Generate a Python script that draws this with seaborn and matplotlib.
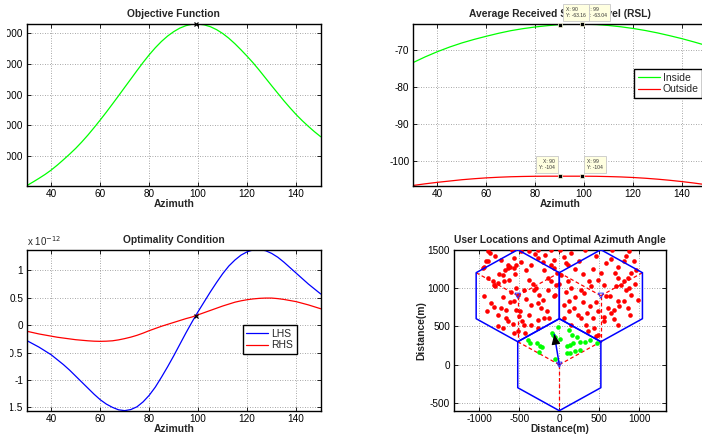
import numpy as np
import pandas as pd
import matplotlib
matplotlib.use("Agg")
import matplotlib.pyplot as plt
from matplotlib.patches import Rectangle
from matplotlib.ticker import FuncFormatter
import seaborn as sns

# ---------------- data ----------------
# Objective function vs azimuth
obj_az = [30, 32.5, 35, 37.5, 40, 42.5, 45, 47.5, 50, 52.5, 55, 57.5, 60, 62.5,
          65, 67.5, 70, 72.5, 75, 77.5, 80, 82.5, 85, 87.5, 90, 92.5, 95, 97.5,
          99, 100, 102.5, 105, 107.5, 110, 112.5, 115, 117.5, 120, 122.5, 125,
          127.5, 130, 132.5, 135, 137.5, 140, 142.5, 145, 147.5, 150]
obj_val = [4033, 4150, 4272, 4400, 4543, 4705, 4880, 5060, 5250, 5460, 5685,
           5925, 6174, 6430, 6696, 6965, 7239, 7510, 7783, 8050, 8300, 8530,
           8735, 8910, 9055, 9170, 9250, 9295, 9304, 9302, 9275, 9215, 9120,
           8995, 8840, 8660, 8460, 8250, 8030, 7790, 7540, 7290, 7045, 6800,
           6570, 6350, 6150, 5965, 5790, 5630]
obj_opt_az = 99
obj_yticks = [5000, 6000, 7000, 8000, 9000]

# Average RSL vs azimuth
rsl_az = [30, 35, 40, 45, 50, 55, 60, 65, 70, 75, 80, 85, 90, 95, 99, 105,
          110, 115, 120, 125, 130, 135, 140, 145, 150]
rsl_inside = [-73.4, -71.85, -70.45, -69.2, -68.1, -67.15, -66.3, -65.5, -64.8,
              -64.25, -63.8, -63.45, -63.16, -63.06, -63.04, -63.15, -63.4,
              -63.75, -64.2, -64.75, -65.4, -66.15, -66.95, -67.85, -68.8]
rsl_outside = [-106.5, -106.05, -105.65, -105.3, -104.95, -104.68, -104.45,
               -104.28, -104.15, -104.07, -104.02, -104.0, -104.0, -104.0, -104.0,
               -104.03, -104.1, -104.2, -104.35, -104.55, -104.8, -105.1, -105.45,
               -105.85, -106.3]
tip_az = [90, 99]
tip_inside = [-63.16, -63.04]
tip_outside = [-104, -104]

# Optimality condition (units of 1e-12)
opt_az = [30, 32.5, 35, 37.5, 40, 42.5, 45, 47.5, 50, 52.5, 55, 57.5, 60, 62.5,
          65, 67.5, 70, 72.5, 75, 77.5, 80, 82.5, 85, 87.5, 90, 92.5, 95, 97.5,
          99, 100, 102.5, 105, 107.5, 110, 112.5, 115, 117.5, 120, 122.5, 125,
          127.5, 130, 132.5, 135, 137.5, 140, 142.5, 145, 147.5, 150]
lhs = [-0.28, -0.34, -0.40, -0.47, -0.54, -0.63, -0.72, -0.82, -0.93, -1.04,
       -1.15, -1.26, -1.36, -1.44, -1.50, -1.545, -1.56, -1.54, -1.49, -1.40,
       -1.28, -1.13, -0.95, -0.76, -0.56, -0.35, -0.14, 0.06, 0.175, 0.25, 0.43,
       0.61, 0.78, 0.94, 1.08, 1.19, 1.28, 1.34, 1.375, 1.38, 1.36, 1.31, 1.24,
       1.15, 1.05, 0.95, 0.85, 0.75, 0.66, 0.57]
rhs = [-0.11, -0.135, -0.16, -0.18, -0.20, -0.22, -0.235, -0.25, -0.265, -0.275,
       -0.285, -0.292, -0.295, -0.292, -0.285, -0.268, -0.245, -0.218, -0.185,
       -0.145, -0.10, -0.06, -0.02, 0.015, 0.05, 0.085, 0.12, 0.15, 0.175, 0.19,
       0.23, 0.27, 0.31, 0.35, 0.385, 0.42, 0.445, 0.465, 0.48, 0.49, 0.495,
       0.495, 0.485, 0.47, 0.45, 0.43, 0.40, 0.37, 0.335, 0.30]
opt_cross = (99, 0.175)

# User locations (m)
red_x = [-896, -862, -596, -479, -375, -271, -175, -104, 12, 146, 321, 658, 875,
         -958, -938, -917, -896, -804, -729, -646, -613, -563, -542, -571, -479,
         -646, -271, -188, -104, -63, 83, 104, -63, 250, 458, 583, 729, 813, 838,
         938, 958,
         -896, -833, -813, -771, -708, -696, -625, -804, -938, -542, -521, -438,
         -375, -333, -321, -292, -250, -271, -146, -138, -104, -54, -71, -42, 21,
         104, 146, 271, 313, 375, 396, 479, 563, 583, 729, 708, 771, 813, 854,
         875, 833, 896, 813, 729, 750, 854, 688,
         -813, -729, -667, -771, -563, -542, -488, -500, -471, -446, -667, -646,
         -583, -771, -708, -521, -563, -429, -271, -229, -188, -125, -354, -271,
         63, 125, 188, 229, 271, 63, 146, 333, 417, 479, 604, 646, 563, 729, 438,
         479, 458, 354,
         -750, -680, -560, -420, -350, -300, -200, -30, -10, 60, 200, 300, 420,
         520, 650, 700, 900, 950, 980, 640, 460, 380, 300, 200, 80, -200, -350,
         -420, -600, -700, -860, -900, -620, -380, -150, 120, 350, 560, 680, 880]
red_y = [1478, 1457, 1491, 1478, 1478, 1491, 1435, 1491, 1495, 1457, 1491, 1491, 1478,
         1261, 1270, 1348, 1348, 1413, 1370, 1304, 1270, 1391, 1304, 1261, 1339,
         1261, 1391, 1239, 1304, 1370, 1326, 1304, 1261, 1357, 1413, 1326, 1270,
         1348, 1413, 1348, 1239,
         1130, 1087, 1043, 1065, 1174, 1087, 1109, 1022, 891, 1000, 913, 978, 1109,
         1052, 978, 1000, 913, 804, 1130, 978, 1087, 913, 891, 1043, 1174, 1087,
         1000, 978, 935, 1087, 1022, 1109, 1043, 891, 1130, 1022, 1043, 1087, 1130,
         1000, 978, 913, 826, 826, 761, 739, 717,
         748, 739, 717, 652, 826, 717, 696, 630, 565, 522, 609, 565, 530, 500, 478,
         435, 413, 413, 587, 739, 609, 609, 522, 478, 783, 696, 739, 652, 609, 609,
         522, 522, 609, 696, 739, 674, 565, 522, 478, 391, 370, 435,
         1180, 1230, 1180, 1230, 1300, 1450, 1340, 1200, 1050, 1400, 1250, 1180,
         1250, 1200, 1380, 1200, 1200, 1050, 850, 900, 820, 760, 820, 880, 950,
         850, 780, 860, 950, 880, 800, 700, 820, 650, 700, 830, 680, 620, 600, 650]
green_x = [-12, -96, -75, -54, 125, 154, 225, 8, 175, 133, 92, 258, 321, 383,
           467, -388, -367, -283, -242, -221, -250, 92, 133, 196, 258, -54]
green_y = [496, 409, 387, 365, 452, 387, 357, 330, 278, 257, 243, 300, 300, 322,
           287, 322, 278, 278, 243, 226, 170, 148, 157, 183, 191, 70]
site_x = [0, -519.6, 519.6]
site_y = [0, 900, 900]
cell_radius = 600
opt_azimuth = 99
arrow_len = 400

# ---------------- style ----------------
sns.set_theme(style="ticks")
plt.rcParams['font.family'] = ['Liberation Sans', 'DejaVu Sans']
plt.rcParams['axes.unicode_minus'] = False

W, H = 702, 436
fig = plt.figure(figsize=(W / 100, H / 100), dpi=100)
fig.patch.set_facecolor('white')


def px_axes(left, top, right, bottom):
    return fig.add_axes([left / W, 1 - bottom / H, (right - left) / W, (bottom - top) / H])


def style(ax):
    ax.set_facecolor('white')
    ax.grid(True, linestyle=(0, (1, 2)), color='#8a8a8a', linewidth=0.6)
    ax.tick_params(direction='in', length=3, width=0.6, top=True, right=True,
                   labelsize=7.2, pad=2.5, colors='black')
    for s in ax.spines.values():
        s.set_color('black')
        s.set_linewidth(1.0)


TITLE = dict(fontsize=7.4, fontweight='bold', pad=5)
LAB = dict(fontsize=7.4, fontweight='bold', labelpad=0)
gfmt = FuncFormatter(lambda v, p: f'{v:g}')

# ---- 1. Objective function ----
ax1 = px_axes(26.7, 24, 320.7, 185.7)
style(ax1)
sns.lineplot(x=obj_az, y=obj_val, ax=ax1, color='#00ff00', linewidth=0.9)
peak = obj_val[obj_az.index(obj_opt_az)]
ax1.plot([obj_opt_az], [peak], marker='x', color='black', markersize=3.5,
         markeredgewidth=0.9, clip_on=False, zorder=5)
ax1.set_xlim(30, 150)
ax1.set_ylim(min(obj_val), max(obj_val))
ax1.set_xticks([40, 60, 80, 100, 120, 140])
ax1.set_yticks(obj_yticks)
ax1.yaxis.set_major_formatter(gfmt)
ax1.set_title('Objective Function', **TITLE)
ax1.set_xlabel('Azimuth', **LAB)
ax1.set_ylabel('')

# ---- 2. Average RSL ----
ax2 = px_axes(413, 24, 706.4, 185.7)
style(ax2)
sns.lineplot(x=rsl_az, y=rsl_inside, ax=ax2, color='#00ff00', linewidth=0.9, label='Inside')
sns.lineplot(x=rsl_az, y=rsl_outside, ax=ax2, color='#ff0000', linewidth=0.9, label='Outside')
ax2.set_xlim(30, 150)
ax2.set_ylim(-106.56, -63.0)
ax2.set_xticks([40, 60, 80, 100, 120, 140])
ax2.set_yticks([-100, -90, -80, -70])
ax2.yaxis.set_major_formatter(gfmt)
ax2.set_title('Average Received Signal Level (RSL)', **TITLE)
ax2.set_xlabel('Azimuth', **LAB)
ax2.set_ylabel('')
sns.scatterplot(x=tip_az, y=tip_inside, ax=ax2, marker='s', color='black', s=9,
                edgecolor='#ffffe0', linewidth=0.5, zorder=6, clip_on=False, legend=False)
sns.scatterplot(x=tip_az, y=tip_outside, ax=ax2, marker='s', color='black', s=9,
                edgecolor='#ffffe0', linewidth=0.5, zorder=6, clip_on=False, legend=False)

TIP = dict(textcoords='offset points', fontsize=3.6, linespacing=1.3, color='#333333',
           annotation_clip=False,
           bbox=dict(boxstyle='square,pad=0.6', fc='#ffffe0', ec='#c8c8c8', lw=0.6))
# top tips (the second lies underneath the first, as in the original)
ax2.annotate(f'X: {tip_az[1]}\nY: {tip_inside[1]:g}', xy=(tip_az[1], tip_inside[1]),
             xytext=(4, 4.5), ha='left', va='bottom', zorder=10, **TIP)
ax2.annotate(f'X: {tip_az[0]}\nY: {tip_inside[0]:g}', xy=(tip_az[0], tip_inside[0]),
             xytext=(4.4, 4.5), ha='left', va='bottom', zorder=11, **TIP)
ax2.annotate(f'X: {tip_az[0]}\nY: {tip_outside[0]:g}', xy=(tip_az[0], tip_outside[0]),
             xytext=(-3.2, 4.5), ha='right', va='bottom', zorder=10, **TIP)
ax2.annotate(f'X: {tip_az[1]}\nY: {tip_outside[1]:g}', xy=(tip_az[1], tip_outside[1]),
             xytext=(4, 4.5), ha='left', va='bottom', zorder=10, **TIP)

LEG = dict(fontsize=7.5, frameon=True, fancybox=False, framealpha=1, edgecolor='black',
           borderpad=0.35, handlelength=2.1, handletextpad=0.3, labelspacing=0.15,
           borderaxespad=0, loc='upper left', bbox_transform=fig.transFigure)
leg2 = ax2.legend(bbox_to_anchor=(634 / W, 1 - 69 / H), **LEG)
leg2.get_frame().set_linewidth(1.0)

# ---- 3. Optimality condition ----
ax3 = px_axes(26.7, 249.7, 320.7, 410.7)
style(ax3)
sns.lineplot(x=opt_az, y=lhs, ax=ax3, color='#0000ff', linewidth=0.9, label='LHS')
sns.lineplot(x=opt_az, y=rhs, ax=ax3, color='#ff0000', linewidth=0.9, label='RHS')
ax3.plot([opt_cross[0]], [opt_cross[1]], marker='x', color='black', markersize=3.5,
         markeredgewidth=0.9, zorder=5)
ax3.set_xlim(30, 150)
ax3.set_ylim(-1.561, 1.378)
ax3.set_xticks([40, 60, 80, 100, 120, 140])
ax3.set_yticks([-1.5, -1, -0.5, 0, 0.5, 1])
ax3.yaxis.set_major_formatter(gfmt)
ax3.set_title('Optimality Condition', **TITLE)
ax3.set_xlabel('Azimuth', **LAB)
ax3.set_ylabel('')
ax3.text(0.0, 1.012, r'x 10$^{-12}$', transform=ax3.transAxes, fontsize=7,
         ha='left', va='bottom')
leg3 = ax3.legend(bbox_to_anchor=(242.7 / W, 1 - 325 / H), **LEG)
leg3.get_frame().set_linewidth(1.0)

# ---- 4. User locations ----
ax4 = px_axes(453.7, 249.7, 665.7, 410.7)
style(ax4)
ang_hex = np.deg2rad([30, 90, 150, 210, 270, 330, 30])
ang_sec = np.deg2rad([30, 150, 270])
for cx, cy in zip(site_x, site_y):
    for a in ang_sec:
        sx = [cx, cx + cell_radius * np.cos(a)]
        sy = [cy, cy + cell_radius * np.sin(a)]
        sns.lineplot(x=sx, y=sy, ax=ax4, color='#ff0000', linewidth=0.9,
                     sort=False, estimator=None, zorder=2)
        ax4.lines[-1].set_dashes([3, 2])
sns.scatterplot(x=red_x, y=red_y, ax=ax4, color='#ff0000', s=11, linewidth=0, zorder=3)
sns.scatterplot(x=green_x, y=green_y, ax=ax4, color='#00ff00', s=11, linewidth=0, zorder=3)
for cx, cy in zip(site_x, site_y):
    hx = cx + cell_radius * np.cos(ang_hex)
    hy = cy + cell_radius * np.sin(ang_hex)
    sns.lineplot(x=hx, y=hy, ax=ax4, color='#0000ff', linewidth=1.1,
                 sort=False, estimator=None, zorder=4)
sns.scatterplot(x=site_x, y=site_y, ax=ax4, marker='v', s=14, facecolor='none',
                edgecolor='#3030ff', linewidth=0.7, zorder=5)
tip_x = arrow_len * np.cos(np.deg2rad(opt_azimuth))
tip_y = arrow_len * np.sin(np.deg2rad(opt_azimuth))
sns.lineplot(x=[site_x[0], tip_x], y=[site_y[0], tip_y], ax=ax4, color='#0000ff',
             linewidth=1.1, sort=False, estimator=None, zorder=6)
ax4.annotate('', xy=(tip_x, tip_y), xytext=(tip_x * 0.8, tip_y * 0.8),
             arrowprops=dict(arrowstyle='-|>,head_length=0.5,head_width=0.22',
                             color='black', lw=0.8, shrinkA=0, shrinkB=0), zorder=7)
ax4.set_xlim(-1320, 1330)
ax4.set_ylim(-600, 1500)
ax4.set_xticks([-1000, -500, 0, 500, 1000])
ax4.set_yticks([-500, 0, 500, 1000, 1500])
ax4.set_title('User Locations and Optimal Azimuth Angle', **TITLE)
ax4.set_xlabel('Distance(m)', **LAB)
ax4.set_ylabel('Distance(m)', fontsize=7.4, fontweight='bold', labelpad=1)

# cropped left margin of the original screenshot
fig.add_artist(Rectangle((0, 218 / H), 7.3 / W, 1 - 218 / H, transform=fig.transFigure,
                         facecolor='white', edgecolor='none', zorder=20))
fig.add_artist(Rectangle((0, 0), 9.6 / W, 218 / H, transform=fig.transFigure,
                         facecolor='white', edgecolor='none', zorder=20))

fig.savefig('out.png', dpi=100, facecolor='white')
